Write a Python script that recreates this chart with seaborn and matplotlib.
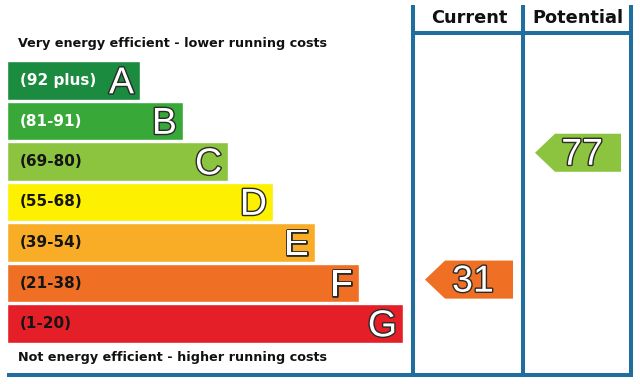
import matplotlib
matplotlib.use("Agg")
import matplotlib.pyplot as plt
import matplotlib.patheffects as pe
import seaborn as sns
import pandas as pd

# ─── Data ──────────────────────────────────────────────────────────────────────

bands = ["A", "B", "C", "D", "E", "F", "G"]
ranges = ["(92 plus)", "(81-91)", "(69-80)", "(55-68)", "(39-54)", "(21-38)", "(1-20)"]
band_lo = [92, 81, 69, 55, 39, 21, 1]
band_hi = [100, 91, 80, 68, 54, 38, 20]
bar_len = [133, 176, 221, 266, 308, 352, 396]
band_colors = ["#1b8b3f", "#38a839", "#8dc43f", "#fdf000", "#f9ad26", "#ef7024", "#e41f27"]
range_text_colors = ["white", "white", "#151515", "#151515", "#151515", "#151515", "#151515"]

current_score = 31
potential_score = 77

# ─── Layout helpers (pixel -> data) ────────────────────────────────────────────

X0 = 7            # pixel where bars start
ROW0 = 80.5       # pixel centre of first row
PITCH = 40.5      # pixels per row
BLUE = "#1f6e9e"
LW = 2.9


def px(x):
    return x - X0


def ry(y):
    return (y - ROW0) / PITCH


def score_row(score):
    for i, (lo, hi) in enumerate(zip(band_lo, band_hi)):
        if lo <= score <= hi:
            f = (score - lo) / (hi - lo)
            return i, i + 0.475 - f * 0.95
    return len(bands) - 1, len(bands) - 1


sns.set_style("white")
plt.rcParams["font.family"] = ["DejaVu Sans"]

df = pd.DataFrame({"band": bands, "length": bar_len})

fig = plt.figure(figsize=(6.4, 3.84), dpi=100)
ax = fig.add_axes([0, 0, 1, 1])
sns.barplot(data=df, x="length", y="band", hue="band", palette=band_colors,
            orient="h", width=0.95, legend=False, saturation=1, ax=ax)

ax.set_xlim(px(0), px(640))
ax.set_ylim(ry(384), ry(0))
ax.set_axis_off()

outline = [pe.withStroke(linewidth=2.0, foreground="#2a2a2a")]

for i, (b, r, L) in enumerate(zip(bands, ranges, bar_len)):
    ax.text(px(20), i, r, color=range_text_colors[i], fontsize=11, fontweight="bold",
            va="center", ha="left")
    ax.text(L - 6, i + 0.07, b, color="white", fontsize=27, family="Liberation Sans",
            va="center", ha="right", path_effects=outline)

ax.text(px(18), ry(44), "Very energy efficient - lower running costs",
        fontsize=9.2, fontweight="bold", va="center", ha="left", color="#111111")
ax.text(px(18), ry(357), "Not energy efficient - higher running costs",
        fontsize=9.2, fontweight="bold", va="center", ha="left", color="#111111")

# table frame
for xl in [413, 523, 631]:
    ax.plot([px(xl), px(xl)], [ry(5), ry(375)], color=BLUE, lw=LW, solid_capstyle="butt")
ax.plot([px(413), px(631)], [ry(33), ry(33)], color=BLUE, lw=LW)
ax.plot([px(7), px(633)], [ry(375), ry(375)], color=BLUE, lw=LW, solid_capstyle="butt")

ax.text(px(469), ry(18), "Current", fontsize=12.8, fontweight="bold", ha="center", va="center",
        color="#111111")
ax.text(px(578), ry(18), "Potential", fontsize=12.8, fontweight="bold", ha="center", va="center",
        color="#111111")

# rating arrows
for score, col_l, col_r in [(current_score, 413, 523), (potential_score, 523, 631)]:
    idx, yc = score_row(score)
    tip = px(col_l + 12)
    sh = px(col_l + 32)
    end = px(col_r - 10)
    h = 0.47
    ax.fill([tip, sh, end, end, sh], [yc, yc - h, yc - h, yc + h, yc + h],
            color=band_colors[idx], lw=0)
    ax.text((sh + end) / 2 - 6, yc + 0.05, str(score), color="white", fontsize=27,
            family="Liberation Sans", ha="center", va="center", path_effects=outline)

fig.savefig("out.png", dpi=100)
